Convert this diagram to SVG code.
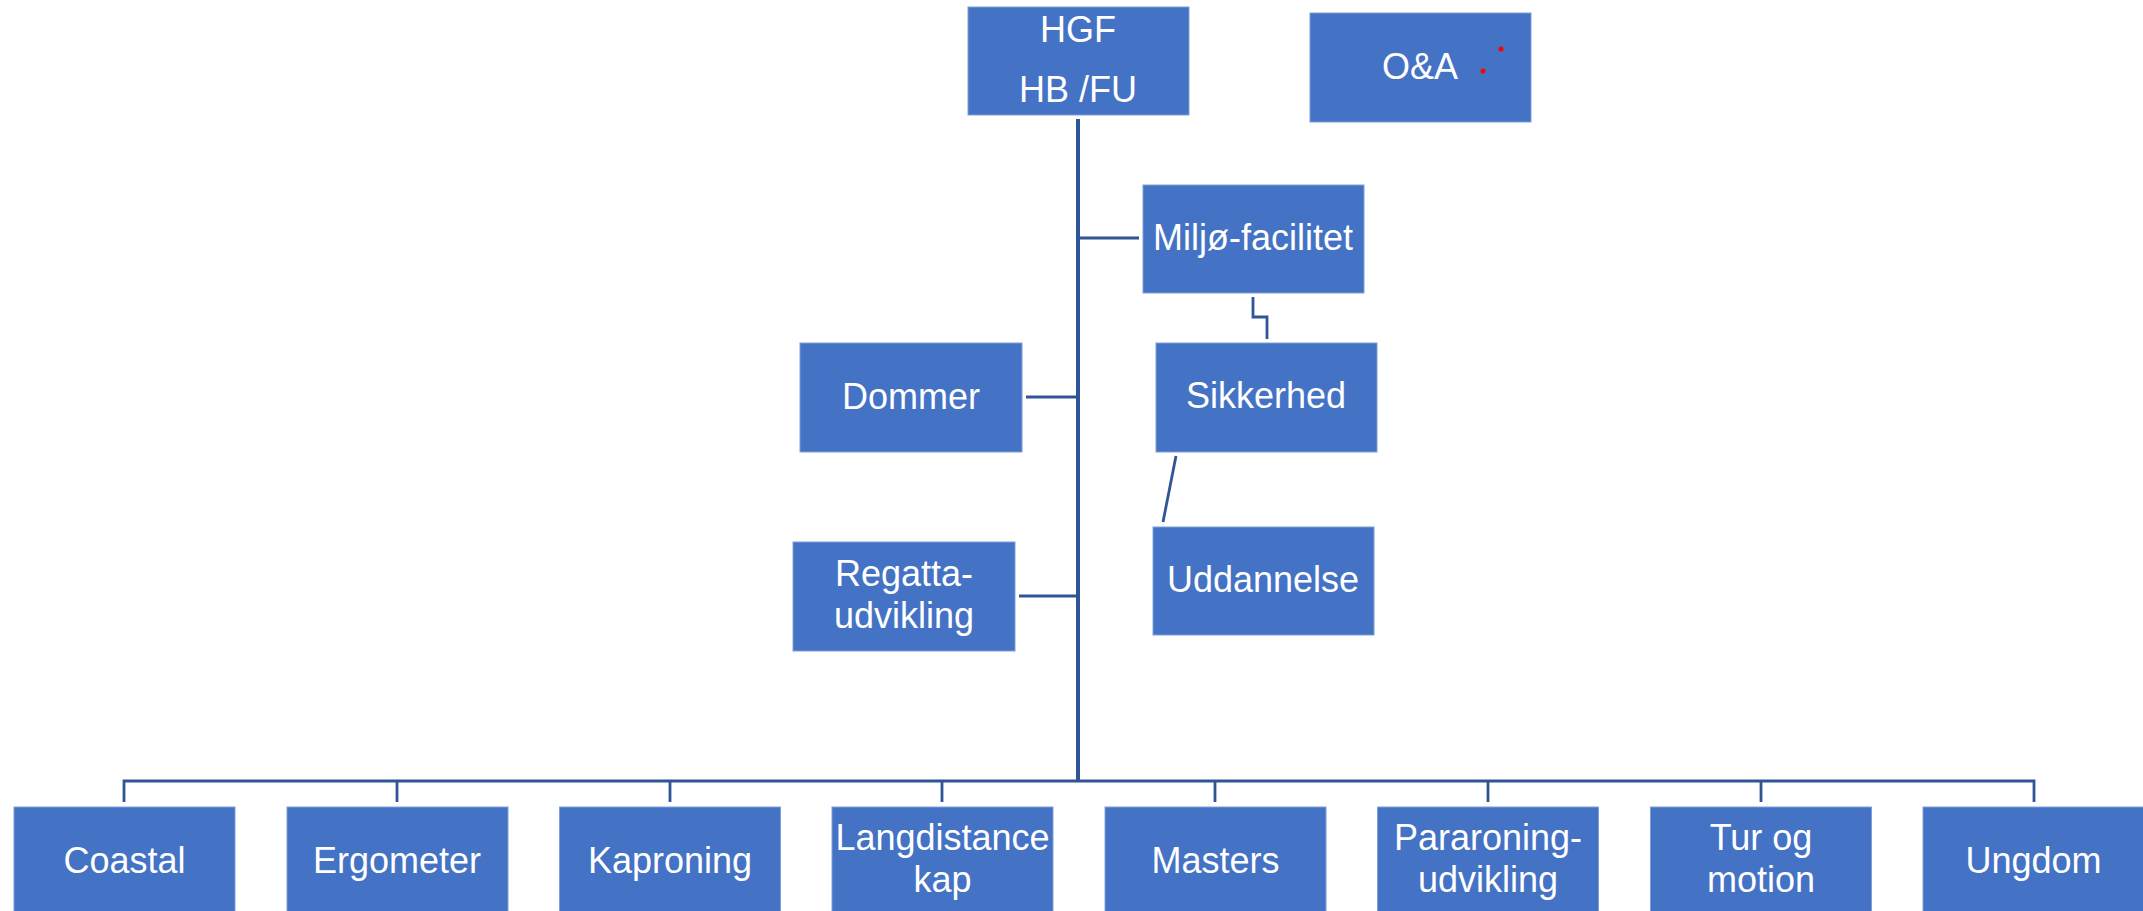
<svg xmlns="http://www.w3.org/2000/svg" width="2143" height="911" viewBox="0 0 2143 911">
<style>
.box{fill:#4472C4;stroke:#7F9FD6;stroke-width:1}
.t{font-family:"Liberation Sans",Arial,sans-serif;font-size:36px;fill:#FFFFFF;text-anchor:middle}
.ln{fill:none;stroke:#2F5597;stroke-width:2.8}
.main{fill:none;stroke:#2F5597;stroke-width:4}
</style>
<rect width="2143" height="911" fill="#FFFFFF"/>
<g id="connectors">
<line class="main" x1="1078" y1="119" x2="1078" y2="781"/>
<polyline class="ln" points="124,802 124,781 2034,781 2034,802"/>
<line class="ln" x1="397" y1="781" x2="397" y2="802"/>
<line class="ln" x1="670" y1="781" x2="670" y2="802"/>
<line class="ln" x1="942" y1="781" x2="942" y2="802"/>
<line class="ln" x1="1215" y1="781" x2="1215" y2="802"/>
<line class="ln" x1="1488" y1="781" x2="1488" y2="802"/>
<line class="ln" x1="1761" y1="781" x2="1761" y2="802"/>
<line class="ln" x1="1078" y1="238" x2="1139" y2="238"/>
<line class="ln" x1="1026" y1="397" x2="1078" y2="397"/>
<line class="ln" x1="1019" y1="596" x2="1078" y2="596"/>
<polyline class="ln" points="1253,297 1253,317 1267,317 1267,339"/>
<line class="ln" x1="1176" y1="456" x2="1163" y2="522"/>
</g>
<g id="hgf"><rect class="box" x="968" y="7" width="221" height="108"/><text class="t" x="1078" y="42">HGF</text><text class="t" x="1078" y="102">HB /FU</text></g>
<g id="oa"><rect class="box" x="1310" y="13" width="221" height="109"/><text class="t" x="1420" y="79">O&amp;A</text><circle cx="1501" cy="49" r="2.5" fill="#FF0000"/><circle cx="1483" cy="71" r="2.5" fill="#FF0000"/></g>
<g id="miljo"><rect class="box" x="1143" y="185" width="221" height="108"/><text class="t" x="1253" y="250">Miljø-facilitet</text></g>
<g id="dommer"><rect class="box" x="800" y="343" width="222" height="109"/><text class="t" x="911" y="409">Dommer</text></g>
<g id="sikkerhed"><rect class="box" x="1156" y="343" width="221" height="109"/><text class="t" x="1266" y="408">Sikkerhed</text></g>
<g id="regatta"><rect class="box" x="793" y="542" width="222" height="109"/><text class="t" x="904" y="586">Regatta-</text><text class="t" x="904" y="628">udvikling</text></g>
<g id="uddannelse"><rect class="box" x="1153" y="527" width="221" height="108"/><text class="t" x="1263" y="592">Uddannelse</text></g>
<g id="coastal"><rect class="box" x="14" y="807" width="221" height="110"/><text class="t" x="124.5" y="873">Coastal</text></g>
<g id="ergometer"><rect class="box" x="287" y="807" width="221" height="110"/><text class="t" x="397" y="873">Ergometer</text></g>
<g id="kaproning"><rect class="box" x="559.5" y="807" width="221" height="110"/><text class="t" x="670" y="873">Kaproning</text></g>
<g id="langdistance"><rect class="box" x="832" y="807" width="221" height="110"/><text class="t" x="942.5" y="850">Langdistance</text><text class="t" x="942.5" y="892">kap</text></g>
<g id="masters"><rect class="box" x="1105" y="807" width="221" height="110"/><text class="t" x="1215.5" y="873">Masters</text></g>
<g id="pararoning"><rect class="box" x="1377.5" y="807" width="221" height="110"/><text class="t" x="1488" y="850">Pararoning-</text><text class="t" x="1488" y="892">udvikling</text></g>
<g id="turogmotion"><rect class="box" x="1650.5" y="807" width="221" height="110"/><text class="t" x="1761" y="850">Tur og</text><text class="t" x="1761" y="892">motion</text></g>
<g id="ungdom"><rect class="box" x="1923" y="807" width="221" height="110"/><text class="t" x="2033.5" y="873">Ungdom</text></g>
</svg>
